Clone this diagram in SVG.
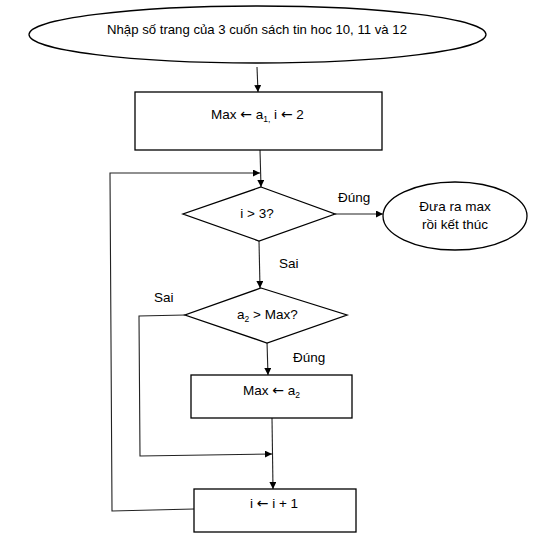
<svg xmlns="http://www.w3.org/2000/svg" width="557" height="547" viewBox="0 0 557 547">
<style>
  .shape { fill: #fff; stroke: #000; stroke-width: 1.3; }
  .conn { fill: none; stroke: #222; stroke-width: 1.1; }
  text { font-family: "Liberation Sans", Arial, sans-serif; font-size: 13.5px; fill: #000; }
  .c { text-anchor: middle; }
  .sub { font-size: 8.5px; }
  .ar { font-family: "DejaVu Sans", sans-serif; font-size: 14px; }
</style>
<defs>
  <marker id="arr" viewBox="0 0 10 10" refX="10" refY="5" markerWidth="7" markerHeight="7" markerUnits="userSpaceOnUse" orient="auto">
    <path d="M0,0 L10,5 L0,10 z" fill="#000"/>
  </marker>
</defs>
<rect width="557" height="547" fill="#fff"/>

<g id="connectors">
  <line class="conn" x1="257" y1="67" x2="258" y2="92" marker-end="url(#arr)"/>
  <line class="conn" x1="260" y1="150" x2="261" y2="187" marker-end="url(#arr)"/>
  <polyline class="conn" points="194,509 112,511 110,173 260,173" marker-end="url(#arr)"/>
  <line class="conn" x1="335" y1="214" x2="383" y2="214" marker-end="url(#arr)"/>
  <line class="conn" x1="259" y1="241" x2="260" y2="288" marker-end="url(#arr)"/>
  <polyline class="conn" points="185,315 139,316 140,456 272,454" marker-end="url(#arr)"/>
  <line class="conn" x1="267" y1="342" x2="268" y2="375" marker-end="url(#arr)"/>
  <line class="conn" x1="272" y1="418" x2="273" y2="489" marker-end="url(#arr)"/>
  <text x="338" y="202">Đúng</text>
  <text x="279" y="268">Sai</text>
  <text x="154" y="302">Sai</text>
  <text x="293" y="362">Đúng</text>
</g>

<g id="start">
  <ellipse class="shape" cx="257.5" cy="34.5" rx="228.5" ry="28.5"/>
  <text class="c" x="257" y="34" textLength="300" lengthAdjust="spacingAndGlyphs">Nhập số trang của 3 cuốn sách tin hoc 10, 11 và 12</text>
</g>

<g id="init">
  <rect class="shape" x="135" y="92" width="247" height="58"/>
  <text x="211" y="119">Max <tspan class="ar">←</tspan> a<tspan class="sub" dy="3">1,</tspan><tspan dy="-3"> i <tspan class="ar">←</tspan> 2</tspan></text>
</g>

<g id="cond1">
  <polygon class="shape" points="261,187 335,214 259,241 183,214"/>
  <text class="c" x="257" y="218">i &gt; 3?</text>
</g>

<g id="end">
  <ellipse class="shape" cx="455" cy="216" rx="72" ry="34"/>
  <text class="c" x="455" y="211">Đưa ra max</text>
  <text class="c" x="455" y="229">rồi kết thúc</text>
</g>

<g id="cond2">
  <polygon class="shape" points="261,288 347,315 267,343 185,315"/>
  <text x="237" y="319">a<tspan class="sub" dy="3">2</tspan><tspan dy="-3"> &gt; Max?</tspan></text>
</g>

<g id="assign">
  <rect class="shape" x="191" y="375" width="161" height="43"/>
  <text x="243" y="395">Max <tspan class="ar">←</tspan> a<tspan class="sub" dy="3">2</tspan></text>
</g>

<g id="incr">
  <rect class="shape" x="194" y="489" width="162" height="43"/>
  <text x="250" y="508">i <tspan class="ar">←</tspan> i + 1</text>
</g>
</svg>
